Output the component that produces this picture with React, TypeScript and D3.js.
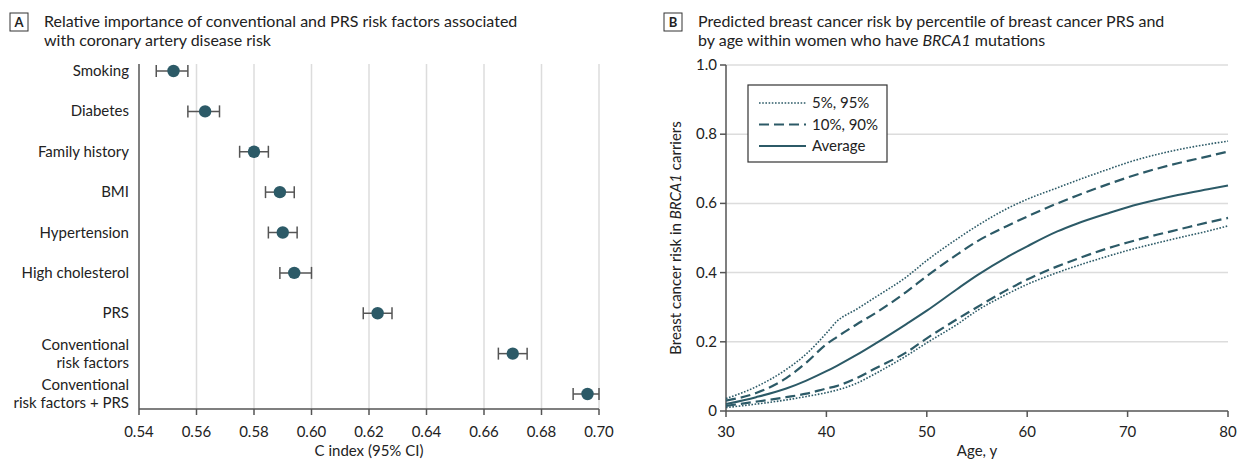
import React from 'react';
import * as d3 from 'd3';

// Panel A: C index with 95% CI
const factors = ['Smoking', 'Diabetes', 'Family history', 'BMI', 'Hypertension', 'High cholesterol', 'PRS', 'Conventional\nrisk factors', 'Conventional\nrisk factors + PRS'];
const cIndex = [0.552, 0.563, 0.580, 0.589, 0.590, 0.594, 0.623, 0.670, 0.696];
const ciLow = [0.546, 0.557, 0.575, 0.584, 0.585, 0.589, 0.618, 0.665, 0.691];
const ciHigh = [0.557, 0.568, 0.585, 0.594, 0.595, 0.600, 0.628, 0.675, 0.700];
const cTicks = [0.54, 0.56, 0.58, 0.60, 0.62, 0.64, 0.66, 0.68, 0.70];

// Panel B: predicted risk by age
const ages = [30, 33, 36, 38, 40, 41, 43, 45, 48, 50, 53, 55, 58, 60, 63, 65, 68, 70, 73, 75, 78, 80];
const p95 = [0.036, 0.07, 0.12, 0.165, 0.225, 0.258, 0.294, 0.331, 0.388, 0.435, 0.497, 0.535, 0.585, 0.612, 0.645, 0.667, 0.698, 0.718, 0.742, 0.755, 0.771, 0.78];
const p90 = [0.03, 0.052, 0.095, 0.14, 0.193, 0.213, 0.25, 0.285, 0.345, 0.39, 0.452, 0.49, 0.535, 0.562, 0.6, 0.623, 0.655, 0.675, 0.701, 0.716, 0.736, 0.75];
const average = [0.02, 0.04, 0.065, 0.088, 0.115, 0.13, 0.162, 0.197, 0.252, 0.29, 0.352, 0.392, 0.445, 0.476, 0.519, 0.542, 0.571, 0.589, 0.611, 0.624, 0.641, 0.652];
const p10 = [0.015, 0.027, 0.04, 0.05, 0.065, 0.072, 0.095, 0.125, 0.17, 0.21, 0.265, 0.3, 0.35, 0.38, 0.418, 0.44, 0.47, 0.487, 0.51, 0.524, 0.545, 0.558];
const p5 = [0.01, 0.02, 0.032, 0.042, 0.053, 0.06, 0.08, 0.11, 0.16, 0.197, 0.25, 0.29, 0.338, 0.366, 0.4, 0.42, 0.447, 0.464, 0.486, 0.5, 0.52, 0.535];
const ageTicks = [30, 40, 50, 60, 70, 80];
const riskTicks = [0, 0.2, 0.4, 0.6, 0.8, 1.0];

const FONT = 'Lato, "Open Sans", sans-serif';
const TEAL = '#2c5a67';
const AXIS = '#555';
const GRID = '#dcdcdc';
const FS = 15;

const PanelTitle = ({ x, letter, lines }: { x: number; letter: string; lines: React.ReactNode[] }) => (
  <g>
    <rect x={x} y={13} width={18} height={18} fill="none" stroke="#333" strokeWidth={1} />
    <text x={x + 9} y={27} textAnchor="middle" fontSize={13} fontWeight={700} fill="#222">{letter}</text>
    {lines.map((l, i) => (
      <text key={i} x={x + 34} y={27 + i * 19} fontSize={16} fill="#222">{l}</text>
    ))}
  </g>
);

const App = () => {
  // panel A scales
  const xA = d3.scaleLinear().domain([0.54, 0.70]).range([139, 599]);
  const yA = d3.scalePoint().domain(factors).range([71, 394]);
  const topA = 64, bottomA = 409;

  // panel B scales
  const xB = d3.scaleLinear().domain([30, 80]).range([726, 1228]);
  const yB = d3.scaleLinear().domain([0, 1]).range([411, 65]);
  const line = (vals: number[]) =>
    d3.line<number>().x((_, i) => xB(ages[i])).y(d => yB(d)).curve(d3.curveMonotoneX)(vals) || '';

  const series = [
    { vals: p95, dash: '1.6,1.6', w: 1.6 },
    { vals: p5, dash: '1.6,1.6', w: 1.6 },
    { vals: p90, dash: '10,5', w: 2.2 },
    { vals: p10, dash: '10,5', w: 2.2 },
    { vals: average, dash: null, w: 2 },
  ];
  const legend = [
    { label: '5%, 95%', dash: '1.6,1.6', w: 1.6 },
    { label: '10%, 90%', dash: '10,5', w: 2.2 },
    { label: 'Average', dash: null, w: 2 },
  ];

  return (
    <div style={{ position: 'absolute', left: 0, top: 0 }}>
      <svg width={1242} height={461} style={{ display: 'block', background: '#fff', fontFamily: FONT }}>
        <PanelTitle x={10} letter="A" lines={['Relative importance of conventional and PRS risk factors associated', 'with coronary artery disease risk']} />
        <PanelTitle x={664} letter="B" lines={[
          'Predicted breast cancer risk by percentile of breast cancer PRS and',
          <tspan key="b">by age within women who have <tspan fontStyle="italic">BRCA1</tspan> mutations</tspan>,
        ]} />

        {/* Panel A */}
        {cTicks.slice(1).map(t => (
          <line key={t} x1={xA(t)} x2={xA(t)} y1={topA} y2={bottomA} stroke={GRID} strokeWidth={1.5} />
        ))}
        <line x1={xA(0.54)} x2={xA(0.54)} y1={topA} y2={bottomA} stroke={AXIS} strokeWidth={1.5} />
        <line x1={xA(0.54)} x2={xA(0.70)} y1={bottomA} y2={bottomA} stroke={AXIS} strokeWidth={1.5} />
        {cTicks.map(t => (
          <g key={t}>
            <line x1={xA(t)} x2={xA(t)} y1={bottomA} y2={bottomA + 6} stroke={AXIS} strokeWidth={1.5} />
            <text x={xA(t)} y={bottomA + 28} textAnchor="middle" fontSize={FS} fill="#222">{d3.format('.2f')(t)}</text>
          </g>
        ))}
        <text x={xA(0.62)} y={456} textAnchor="middle" fontSize={FS} fill="#222">C index (95% CI)</text>
        {factors.map((f, i) => {
          const y = yA(f) as number;
          const parts = f.split('\n');
          return (
            <g key={f}>
              {parts.map((p, j) => (
                <text key={j} x={129} y={y + 5 + (j - (parts.length - 1) / 2) * 18} textAnchor="end" fontSize={FS} fill="#222">{p}</text>
              ))}
              <line x1={xA(ciLow[i])} x2={xA(ciHigh[i])} y1={y} y2={y} stroke={AXIS} strokeWidth={1.5} />
              <line x1={xA(ciLow[i])} x2={xA(ciLow[i])} y1={y - 6} y2={y + 6} stroke={AXIS} strokeWidth={1.5} />
              <line x1={xA(ciHigh[i])} x2={xA(ciHigh[i])} y1={y - 6} y2={y + 6} stroke={AXIS} strokeWidth={1.5} />
              <circle cx={xA(cIndex[i])} cy={y} r={6.2} fill={TEAL} />
            </g>
          );
        })}

        {/* Panel B */}
        {riskTicks.slice(1).map(t => (
          <line key={t} x1={xB(30)} x2={xB(80)} y1={yB(t)} y2={yB(t)} stroke={GRID} strokeWidth={1.5} />
        ))}
        <line x1={xB(30)} x2={xB(30)} y1={yB(1)} y2={yB(0)} stroke={AXIS} strokeWidth={1.5} />
        <line x1={xB(30)} x2={xB(80)} y1={yB(0)} y2={yB(0)} stroke={AXIS} strokeWidth={1.5} />
        {riskTicks.map(t => (
          <g key={t}>
            <line x1={xB(30) - 6} x2={xB(30)} y1={yB(t)} y2={yB(t)} stroke={AXIS} strokeWidth={1.5} />
            <text x={xB(30) - 9} y={yB(t) + 5} textAnchor="end" fontSize={FS} fill="#222">{t === 0 ? '0' : d3.format('.1f')(t)}</text>
          </g>
        ))}
        {ageTicks.map(t => (
          <g key={t}>
            <line x1={xB(t)} x2={xB(t)} y1={yB(0)} y2={yB(0) + 6} stroke={AXIS} strokeWidth={1.5} />
            <text x={xB(t)} y={yB(0) + 26} textAnchor="middle" fontSize={FS} fill="#222">{t}</text>
          </g>
        ))}
        <text x={xB(55)} y={456} textAnchor="middle" fontSize={FS} fill="#222">Age, y</text>
        <text transform={`translate(681,${yB(0.5)}) rotate(-90)`} textAnchor="middle" fontSize={FS} fill="#222">
          Breast cancer risk in <tspan fontStyle="italic">BRCA1</tspan> carriers
        </text>

        {series.map((s, i) => (
          <path key={i} d={line(s.vals)} fill="none" stroke={TEAL} strokeWidth={s.w} strokeDasharray={s.dash || undefined} />
        ))}

        <rect x={748} y={85} width={139} height={77} fill="#fff" stroke="#333" strokeWidth={1.2} />
        {legend.map((l, i) => (
          <g key={l.label}>
            <line x1={759} x2={806} y1={103 + i * 21.5} y2={103 + i * 21.5} stroke={TEAL} strokeWidth={l.w} strokeDasharray={l.dash || undefined} />
            <text x={812} y={108 + i * 21.5} fontSize={FS} fill="#222">{l.label}</text>
          </g>
        ))}
      </svg>
    </div>
  );
};

export default App;
